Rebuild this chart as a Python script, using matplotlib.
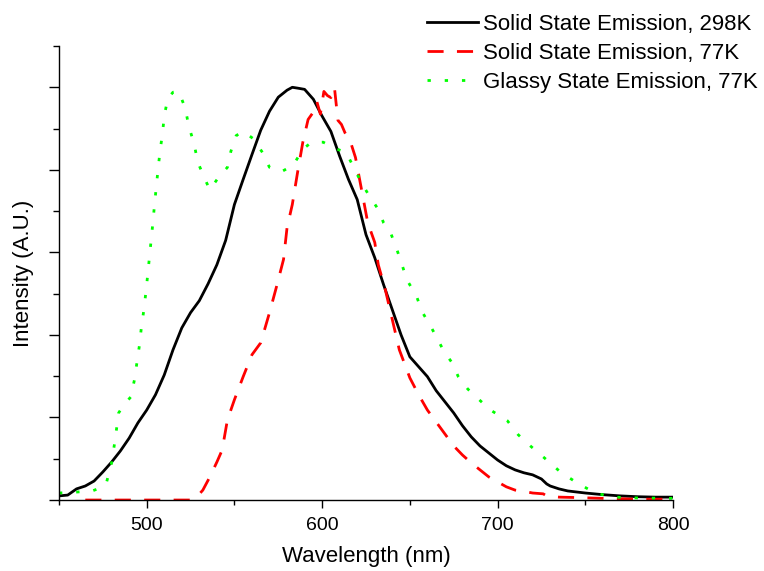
import numpy as np
import matplotlib
matplotlib.use('Agg')
import matplotlib.pyplot as plt
from matplotlib.ticker import MultipleLocator, NullFormatter

plt.rcParams['font.family'] = ['Liberation Sans', 'DejaVu Sans']

# Solid state emission, 298K (normalised intensity)
wl_298 = [450, 455, 460, 465, 470, 475, 480, 485, 490, 495, 500, 505, 510, 515,
          520, 525, 530, 535, 540, 545, 550, 555, 560, 565, 570, 575, 580, 583,
          586, 590, 595, 600, 605, 610, 615, 620, 625, 630, 635, 640, 645, 650,
          655, 660, 665, 670, 675, 680, 685, 690, 695, 700, 705, 710, 715, 720,
          725, 728, 730, 735, 740, 750, 760, 770, 780, 790, 800]
int_298 = [0.010, 0.012, 0.027, 0.034, 0.046, 0.068, 0.092, 0.119, 0.150, 0.187,
           0.218, 0.255, 0.303, 0.364, 0.417, 0.454, 0.483, 0.524, 0.570, 0.629,
           0.716, 0.777, 0.837, 0.896, 0.942, 0.976, 0.993, 1.000, 0.998, 0.995,
           0.971, 0.930, 0.893, 0.833, 0.777, 0.728, 0.643, 0.587, 0.522, 0.461,
           0.400, 0.347, 0.323, 0.299, 0.265, 0.238, 0.211, 0.180, 0.153, 0.131,
           0.114, 0.097, 0.083, 0.073, 0.066, 0.061, 0.051, 0.039, 0.034, 0.027,
           0.022, 0.017, 0.013, 0.010, 0.008, 0.007, 0.007]

# Solid state emission, 77K
wl_77 = [465, 480, 500, 525, 528, 532, 536, 540, 543, 546, 550, 555, 560, 565,
         570, 574, 578, 580, 583, 586, 589, 592, 595, 597, 599, 601, 603, 605,
         607, 609, 611, 613, 616, 619, 623, 626, 630, 632, 636, 640, 644, 650,
         655, 660, 665, 670, 675, 680, 685, 690, 695, 700, 705, 710, 715, 720,
         726, 728, 735, 745, 760, 780, 800]
int_77 = [0.0, 0.0, 0.0, 0.0, 0.005, 0.024, 0.056, 0.092, 0.121, 0.194, 0.243,
          0.299, 0.352, 0.381, 0.454, 0.517, 0.583, 0.660, 0.716, 0.794, 0.867,
          0.922, 0.940, 0.965, 0.935, 0.990, 0.980, 0.975, 1.000, 0.920, 0.910,
          0.890, 0.870, 0.830, 0.740, 0.672, 0.624, 0.570, 0.510, 0.437, 0.364,
          0.296, 0.255, 0.218, 0.189, 0.160, 0.131, 0.109, 0.090, 0.073, 0.056,
          0.044, 0.032, 0.024, 0.021, 0.017, 0.015, 0.010, 0.007, 0.006, 0.004,
          0.002, 0.002]

# Glassy state emission, 77K
wl_glass = [450, 459, 469, 475, 477, 480, 482, 484, 487, 491, 493, 494.5, 496,
            497, 498.5, 500, 502, 503.6, 504.5, 505.5, 506.5, 507.6, 509, 510,
            512, 515, 518, 520, 522, 524, 527, 529, 533, 536, 541, 546, 548, 551,
            555, 560.6, 566, 570, 577, 583.5, 589, 594, 600.6, 608.6, 613.7, 618,
            622, 626, 632, 635, 639, 643, 648.5, 653.7, 657, 662, 665.6, 669.6,
            674, 677.6, 683, 689, 696, 705.6, 711.8, 718.7, 726.7, 735.8, 745.5,
            755.7, 766, 780, 800]
int_glass = [0.017, 0.019, 0.022, 0.032, 0.041, 0.090, 0.146, 0.211, 0.231,
             0.250, 0.291, 0.335, 0.379, 0.420, 0.464, 0.522, 0.607, 0.675,
             0.718, 0.760, 0.803, 0.845, 0.888, 0.930, 0.973, 0.988, 0.990,
             0.971, 0.949, 0.905, 0.864, 0.820, 0.779, 0.752, 0.782, 0.806,
             0.845, 0.883, 0.893, 0.876, 0.842, 0.806, 0.796, 0.811, 0.850,
             0.867, 0.867, 0.850, 0.842, 0.806, 0.772, 0.743, 0.704, 0.672,
             0.648, 0.602, 0.532, 0.495, 0.456, 0.420, 0.391, 0.359, 0.333,
             0.299, 0.269, 0.245, 0.218, 0.192, 0.158, 0.131, 0.102, 0.068,
             0.041, 0.017, 0.007, 0.005, 0.004]

labels = ['Solid State Emission, 298K', 'Solid State Emission, 77K',
          'Glassy State Emission, 77K']

fig = plt.figure(figsize=(7.64, 5.71), dpi=100, facecolor='white')
ax = fig.add_axes([0.0772, 0.1243, 0.8037, 0.7951])

ax.plot(wl_298, int_298, color='black', lw=2.0, label=labels[0])
ax.plot(wl_77, int_77, color='#ff0000', lw=2.0, dashes=(5.8, 4.8), label=labels[1])
ax.plot(wl_glass, int_glass, color='#00ff00', lw=2.0, dashes=(1.2, 5.0),
        label=labels[2])

ax.set_xlim(450, 800)
ax.set_ylim(0, 1.1)

ax.spines['top'].set_visible(False)
ax.spines['right'].set_visible(False)
for s in ['left', 'bottom']:
    ax.spines[s].set_linewidth(1.0)

ax.xaxis.set_major_locator(MultipleLocator(100))
ax.xaxis.set_minor_locator(MultipleLocator(50))
ax.yaxis.set_major_locator(MultipleLocator(0.2))
ax.yaxis.set_minor_locator(MultipleLocator(0.1))
ax.yaxis.set_major_formatter(NullFormatter())

ax.tick_params(axis='x', which='major', direction='out', length=6, width=1,
               labelsize=14, pad=6)
ax.tick_params(axis='x', which='minor', direction='out', length=3.5, width=1)
ax.tick_params(axis='y', which='major', direction='out', length=7.5, width=1)
ax.tick_params(axis='y', which='minor', direction='out', length=4, width=1)

ax.set_xlabel('Wavelength (nm)', fontsize=16, labelpad=9)
ax.set_ylabel('Intensity (A.U.)', fontsize=16, labelpad=7)

fig.legend(loc='upper left', bbox_to_anchor=(427 / 764, 1 - 14 / 571),
           frameon=False, fontsize=16, handlelength=2.3, handletextpad=0.2,
           labelspacing=0.36, borderpad=0, borderaxespad=0)

plt.savefig('out.png', dpi=100, facecolor='white')
